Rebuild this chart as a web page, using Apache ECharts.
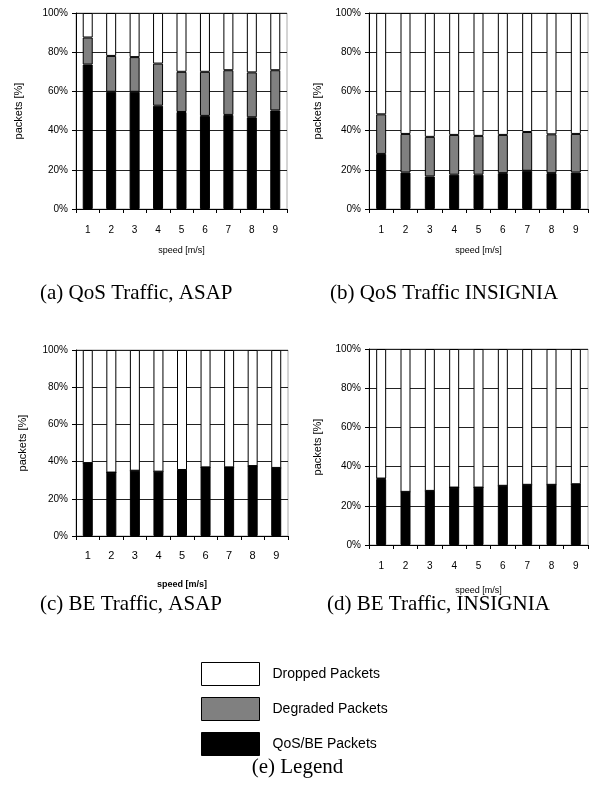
<!DOCTYPE html>
<html>
<head>
<meta charset="utf-8">
<script src="https://cdn.jsdelivr.net/npm/echarts@6/dist/echarts.min.js"></script>
<style>html,body{margin:0;padding:0;background:#fff;}#c{width:595px;height:792px;}</style>
</head>
<body>
<div id="c"></div>
<script>
var speeds = ['1','2','3','4','5','6','7','8','9'];
var yTicks = [0, 20, 40, 60, 80, 100];
var seriesNames = ['Dropped Packets', 'Degraded Packets', 'QoS/BE Packets'];
var captions = ['(a) QoS Traffic, ASAP', '(b) QoS Traffic INSIGNIA', '(c) BE Traffic, ASAP', '(d) BE Traffic, INSIGNIA', '(e) Legend'];

// (a) QoS Traffic, ASAP
var qosAsapGood     = [73.7, 59.8, 59.8, 52.7, 49.5, 47.5, 48.0, 46.8, 50.3];
var qosAsapDegraded = [13.8, 18.3, 17.7, 21.5, 20.5, 22.5, 22.8, 22.9, 20.5];
var qosAsapDropped  = [12.5, 21.9, 22.5, 25.8, 30.0, 30.0, 29.2, 30.3, 29.2];
// (b) QoS Traffic INSIGNIA
var qosInsGood      = [28.1, 18.6, 16.6, 17.5, 17.5, 18.3, 19.5, 18.3, 18.6];
var qosInsDegraded  = [20.2, 19.7, 20.2, 20.3, 19.8, 19.5, 19.8, 19.8, 19.7];
var qosInsDropped   = [51.7, 61.7, 63.2, 62.2, 62.7, 62.2, 60.7, 61.9, 61.7];
// (c) BE Traffic, ASAP
var beAsapGood      = [39.2, 34.1, 35.1, 34.6, 35.5, 36.9, 36.9, 37.6, 36.6];
var beAsapDegraded  = [0, 0, 0, 0, 0, 0, 0, 0, 0];
var beAsapDropped   = [60.8, 65.9, 64.9, 65.4, 64.5, 63.1, 63.1, 62.4, 63.4];
// (d) BE Traffic, INSIGNIA
var beInsGood       = [33.6, 27.1, 27.6, 29.3, 29.3, 30.2, 30.7, 30.7, 31.0];
var beInsDegraded   = [0.3, 0, 0, 0, 0, 0, 0, 0, 0];
var beInsDropped    = [66.1, 72.9, 72.4, 70.7, 70.7, 69.8, 69.3, 69.3, 69.0];

var panels = [
  {good: qosAsapGood, deg: qosAsapDegraded, drop: qosAsapDropped,
   grid: {left: 76, width: 211, top: 13, height: 196}, xGap: 37, xMargin: 16, yGap: 52, bold: false, xFs: 10},
  {good: qosInsGood, deg: qosInsDegraded, drop: qosInsDropped,
   grid: {left: 369, width: 219, top: 13, height: 196}, xGap: 37, xMargin: 16, yGap: 46, bold: false, xFs: 10},
  {good: beAsapGood, deg: beAsapDegraded, drop: beAsapDropped,
   grid: {left: 76, width: 212, top: 350, height: 186}, xGap: 44, xMargin: 14, yGap: 48, bold: true, xFs: 11},
  {good: beInsGood, deg: beInsDegraded, drop: beInsDropped,
   grid: {left: 369, width: 219, top: 349, height: 196}, xGap: 41, xMargin: 16, yGap: 46, bold: false, xFs: 10}
];

var FONT = 'Liberation Sans, Arial, sans-serif';
var SERIF = 'Liberation Serif, Times New Roman, serif';
var grids = [], xAxes = [], yAxes = [], series = [];
panels.forEach(function (p, i) {
  grids.push(Object.assign({show: true, borderColor: '#aaa', borderWidth: 1, backgroundColor: 'transparent'}, p.grid));
  xAxes.push({
    type: 'category', gridIndex: i, data: speeds,
    name: 'speed [m/s]', nameLocation: 'middle', nameGap: p.xGap,
    nameTextStyle: {fontFamily: FONT, fontSize: 9, color: '#000', fontWeight: p.bold ? 'bold' : 'normal'},
    axisLine: {lineStyle: {color: '#000', width: 1}},
    axisTick: {show: true, length: 4, lineStyle: {color: '#000'}},
    axisLabel: {fontFamily: FONT, fontSize: p.xFs, color: '#000', margin: p.xMargin}
  });
  yAxes.push({
    type: 'value', gridIndex: i, min: yTicks[0], max: yTicks[yTicks.length - 1], interval: 20,
    name: 'packets [%]', nameLocation: 'middle', nameGap: p.yGap,
    nameTextStyle: {fontFamily: FONT, fontSize: 11, color: '#000'},
    axisLine: {show: true, lineStyle: {color: '#000', width: 1}},
    axisTick: {show: true, length: 4, lineStyle: {color: '#000'}},
    axisLabel: {fontFamily: FONT, fontSize: 10, color: '#000', margin: 8, formatter: '{value}%'},
    splitLine: {show: true, lineStyle: {color: '#222', width: 1}}
  });
  var stack = 's' + i;
  var common = {type: 'bar', xAxisIndex: i, yAxisIndex: i, stack: stack, barWidth: 10, silent: true, animation: false};
  series.push(Object.assign({name: seriesNames[2], data: p.good,
    itemStyle: {color: '#000', borderColor: '#000', borderWidth: 1}}, common));
  series.push(Object.assign({name: seriesNames[1], data: p.deg,
    itemStyle: {color: '#808080', borderColor: '#000', borderWidth: 1}}, common));
  series.push(Object.assign({name: seriesNames[0], data: p.drop,
    itemStyle: {color: '#fff', borderColor: '#000', borderWidth: 1}}, common));
});

var capPos = [[40, 294], [330, 294], [40, 605], [327, 605]];
var graphics = capPos.map(function (pos, i) {
  return {type: 'text', left: pos[0], top: pos[1] - 11,
    style: {text: captions[i], font: '21px ' + SERIF, fill: '#000'}};
});
graphics.push({type: 'text', left: 'center', top: 757,
  style: {text: captions[4], font: '21px ' + SERIF, fill: '#000'}});

var chart = echarts.init(document.getElementById('c'), null, {renderer: 'canvas'});
chart.setOption({
  animation: false,
  backgroundColor: '#fff',
  grid: grids, xAxis: xAxes, yAxis: yAxes, series: series,
  legend: {
    data: seriesNames, orient: 'vertical', left: 201, top: 662,
    itemWidth: 58, itemHeight: 23, itemGap: 11, selectedMode: false, padding: 0,
    icon: 'rect',
    itemStyle: {borderColor: '#000', borderWidth: 1},
    textStyle: {fontFamily: FONT, fontSize: 14, color: '#000', padding: [0, 0, 0, 8]}
  },
  graphic: graphics
});
</script>
</body>
</html>
